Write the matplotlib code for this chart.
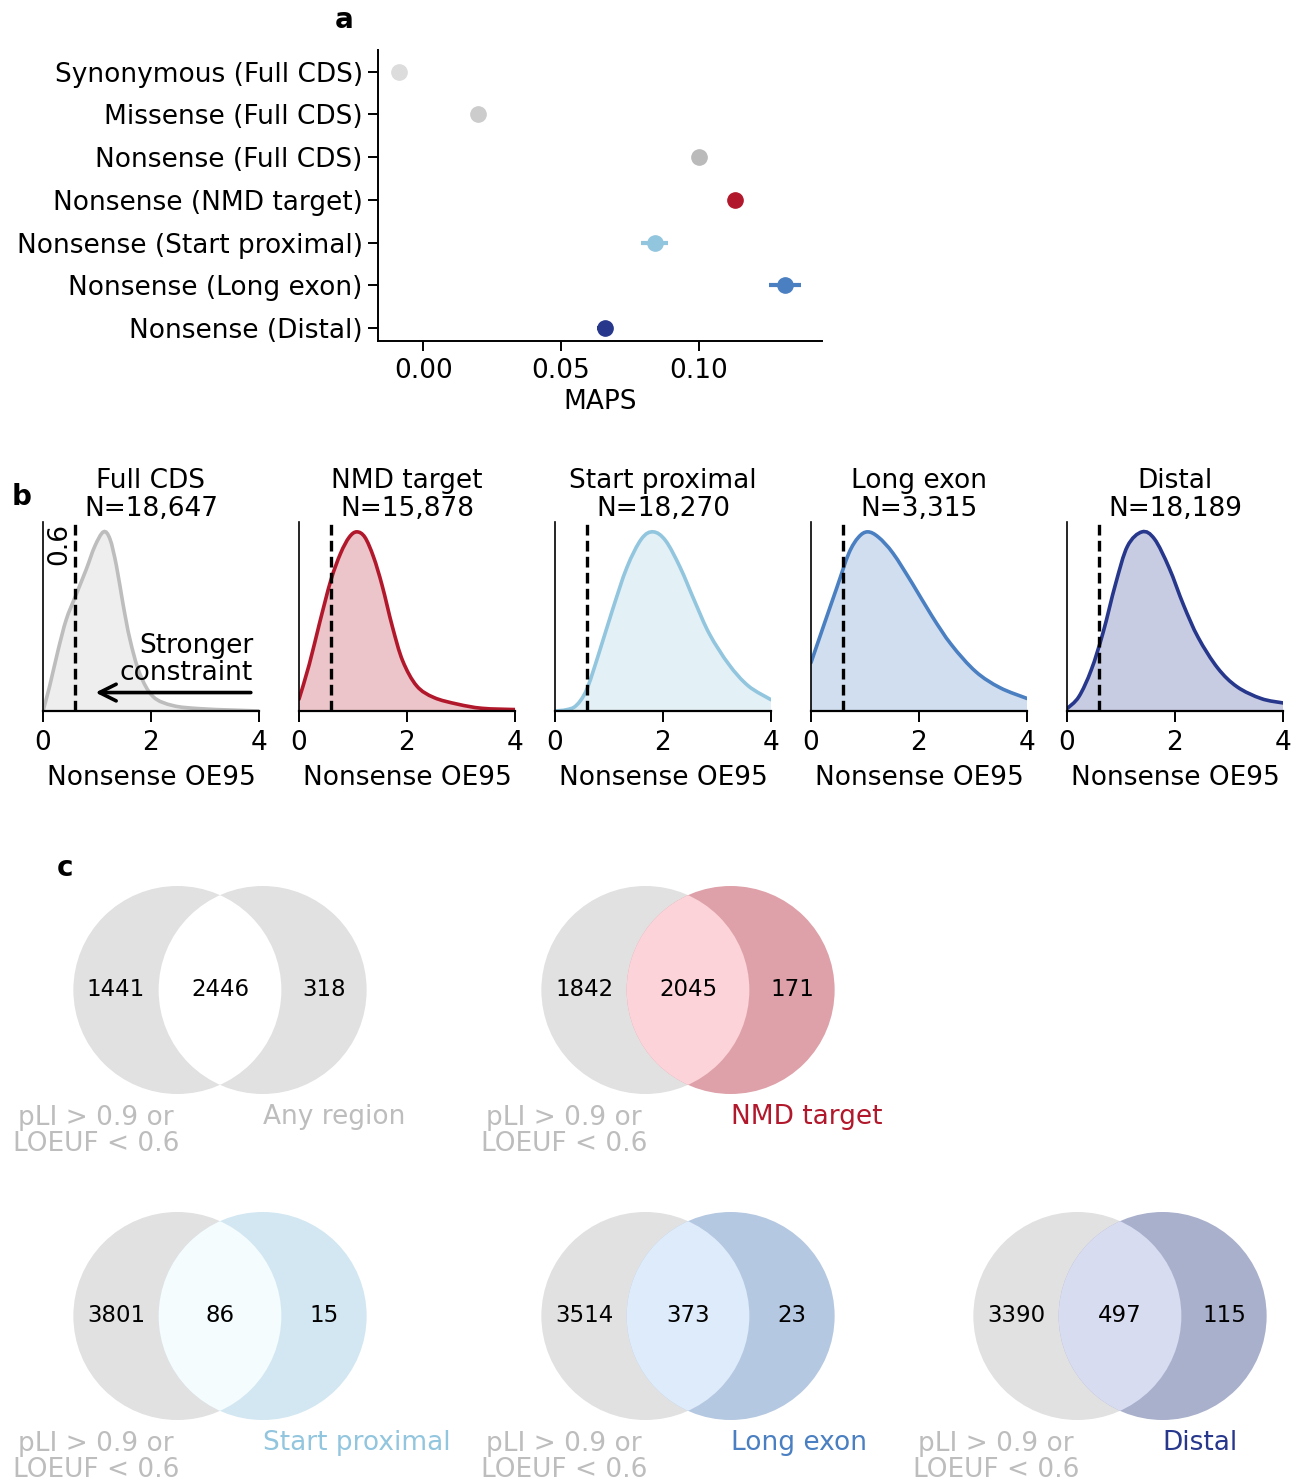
import matplotlib
matplotlib.use("Agg")
import matplotlib.pyplot as plt
from matplotlib.patches import Circle, PathPatch
from matplotlib.path import Path

plt.rcParams['font.family'] = 'DejaVu Sans'
FS = 19

# ---- panel a: MAPS per variant class ----
maps_labels = ["Synonymous (Full CDS)", "Missense (Full CDS)", "Nonsense (Full CDS)",
               "Nonsense (NMD target)", "Nonsense (Start proximal)",
               "Nonsense (Long exon)", "Nonsense (Distal)"]
maps_values = [-0.0087, 0.0197, 0.1000, 0.1129, 0.0839, 0.1312, 0.0659]
maps_err = [0.0006, 0.0008, 0.0012, 0.0015, 0.0048, 0.0059, 0.0029]
maps_colors = ["#dcdcdc", "#cccccc", "#bababa", "#b2182b", "#92c5de", "#4a7fc1", "#26378c"]

# ---- panel b: OE95 density curves (height relative to peak) ----
region_names = ["Full CDS", "NMD target", "Start proximal", "Long exon", "Distal"]
region_n = ["18,647", "15,878", "18,270", "3,315", "18,189"]
region_colors = ["#bdbdbd", "#b2182b", "#92c5de", "#4a7fc1", "#26378c"]

full_x = [0, 0.12, 0.28, 0.43, 0.6, 0.8, 0.96, 1.12, 1.24, 1.36, 1.48, 1.61, 1.79, 2.04, 2.41, 2.9, 3.52, 4.0]
full_y = [0, 0.135, 0.34, 0.51, 0.64, 0.79, 0.92, 1.0, 0.96, 0.81, 0.60, 0.40, 0.21, 0.08, 0.03, 0.013, 0.005, 0.0]
nmd_x = [0, 0.19, 0.38, 0.59, 0.77, 0.93, 1.07, 1.22, 1.38, 1.54, 1.73, 1.92, 2.18, 2.5, 2.94, 3.39, 4.0]
nmd_y = [0.066, 0.26, 0.49, 0.73, 0.88, 0.97, 1.0, 0.97, 0.86, 0.70, 0.47, 0.28, 0.14, 0.075, 0.038, 0.015, 0.008]
start_x = [0, 0.21, 0.39, 0.58, 0.79, 1.06, 1.33, 1.6, 1.82, 2.05, 2.32, 2.59, 2.86, 3.22, 3.58, 4.0]
start_y = [0, 0.007, 0.03, 0.115, 0.30, 0.56, 0.80, 0.96, 1.0, 0.95, 0.80, 0.61, 0.43, 0.26, 0.14, 0.063]
long_x = [0, 0.25, 0.48, 0.7, 0.88, 1.05, 1.25, 1.52, 1.88, 2.24, 2.6, 3.05, 3.5, 4.0]
long_y = [0.27, 0.49, 0.69, 0.88, 0.97, 1.0, 0.97, 0.88, 0.71, 0.53, 0.37, 0.22, 0.13, 0.07]
distal_x = [0, 0.22, 0.45, 0.67, 0.9, 1.12, 1.39, 1.62, 1.89, 2.16, 2.43, 2.79, 3.15, 3.6, 4.0]
distal_y = [0.013, 0.08, 0.23, 0.44, 0.71, 0.92, 1.0, 0.96, 0.80, 0.59, 0.41, 0.24, 0.135, 0.069, 0.045]
curves_x = [full_x, nmd_x, start_x, long_x, distal_x]
curves_y = [full_y, nmd_y, start_y, long_y, distal_y]
oe_cutoff = 0.6

# ---- panel c: venn counts (only pLI/LOEUF, both, region only) ----
venn_names = ["Any region", "NMD target", "Start proximal", "Long exon", "Distal"]
venn_counts = [(1441, 2446, 318), (1842, 2045, 171), (3801, 86, 15), (3514, 373, 23), (3390, 497, 115)]
venn_right_fc = ["#e1e1e1", "#dea1a9", "#d3e7f2", "#b5c8e1", "#a9b0cc"]
venn_mid_fc = ["#ffffff", "#fbd3d8", "#f4fcfe", "#deebfa", "#d8dcf0"]
venn_label_col = ["#bdbdbd", "#b2182b", "#92c5de", "#4a7fc1", "#26378c"]
grey_fc = "#e1e1e1"
grey_txt = "#bdbdbd"

W, H = 1298, 1484
fig = plt.figure(figsize=(W / 100, H / 100), dpi=100)


def px_axes(x0, y_top, w, h):
    return fig.add_axes([x0 / W, (H - y_top - h) / H, w / W, h / H])


def smooth_path(xs, ys, close=False):
    # catmull-rom through the read points, drawn as cubic bezier segments
    pts = list(zip(xs, ys))
    verts = [pts[0]]
    codes = [Path.MOVETO]
    n = len(pts)
    for i in range(n - 1):
        p0 = pts[max(i - 1, 0)]
        p1 = pts[i]
        p2 = pts[i + 1]
        p3 = pts[min(i + 2, n - 1)]
        c1 = (p1[0] + (p2[0] - p0[0]) / 6, p1[1] + (p2[1] - p0[1]) / 6)
        c2 = (p2[0] - (p3[0] - p1[0]) / 6, p2[1] - (p3[1] - p1[1]) / 6)
        verts += [c1, c2, p2]
        codes += [Path.CURVE4] * 3
    if close:
        verts += [(xs[-1], 0), (xs[0], 0), pts[0]]
        codes += [Path.LINETO, Path.LINETO, Path.CLOSEPOLY]
    return Path(verts, codes)


# panel a
ax = px_axes(378, 50, 444, 291)
ypos = list(range(len(maps_labels)))
for i in ypos:
    ax.errorbar(maps_values[i], i, xerr=maps_err[i], fmt='o', color=maps_colors[i],
                ms=11, elinewidth=3, capsize=0)
ax.set_yticks(ypos)
ax.set_yticklabels(maps_labels, fontsize=FS)
ax.set_ylim(6.305, -0.507)
ax.set_xlim(-0.0164, 0.1446)
ax.set_xticks([0, 0.05, 0.1])
ax.set_xticklabels(["0.00", "0.05", "0.10"], fontsize=FS)
ax.set_xlabel("MAPS", fontsize=FS, labelpad=4)
for s in ["top", "right"]:
    ax.spines[s].set_visible(False)
for s in ["left", "bottom"]:
    ax.spines[s].set_linewidth(1.4)
ax.tick_params(axis='y', length=7, width=1.4, pad=4)
ax.tick_params(axis='x', length=7, width=1.4, pad=5)
fig.text(344 / W, 1 - 20 / H, "a", fontsize=20, fontweight='bold', ha='center', va='center')

# panel b
for k in range(5):
    bx = px_axes(43 + 256 * k, 522, 216, 189)
    col = region_colors[k]
    bx.add_patch(PathPatch(smooth_path(curves_x[k], curves_y[k], close=True),
                           fc=col, alpha=0.25, lw=0))
    bx.add_patch(PathPatch(smooth_path(curves_x[k], curves_y[k]), fc='none', ec=col,
                           lw=2.6, capstyle='round'))
    bx.axvline(oe_cutoff, color='black', ls='--', lw=2.4, dashes=(3.2, 1.6))
    bx.set_xlim(0, 4)
    bx.set_ylim(0, 1.055)
    bx.set_yticks([])
    bx.set_xticks([0, 2, 4])
    bx.set_xticklabels(["0", "2", "4"], fontsize=FS)
    bx.tick_params(axis='x', length=8, width=1.4, pad=6)
    for s in ["top", "right"]:
        bx.spines[s].set_visible(False)
    bx.spines["left"].set_linewidth(1.2)
    bx.spines["bottom"].set_linewidth(1.6)
    bx.set_xlabel("Nonsense OE95", fontsize=FS, labelpad=6)
    bx.set_title(f"{region_names[k]}\nN={region_n[k]}", fontsize=FS, pad=3, linespacing=1.1)
    if k == 0:
        bx.text(0.55, 1.05, "0.6", rotation=90, fontsize=FS, ha='right', va='top')
        bx.text(3.89, 0.29, "Stronger\nconstraint", fontsize=FS, ha='right', va='center',
                linespacing=1.05)
        bx.annotate("", xy=(0.92, 0.103), xytext=(3.9, 0.103),
                    arrowprops=dict(arrowstyle='->', lw=2.6, color='black', mutation_scale=30))
fig.text(22 / W, 1 - 497 / H, "b", fontsize=20, fontweight='bold', ha='center', va='center')

# panel c
fig.text(65 / W, 1 - 868 / H, "c", fontsize=20, fontweight='bold', ha='center', va='center')
venn_mid_x = [220, 688, 220, 688, 1120]
venn_cy = [990, 990, 1316, 1316, 1316]
d = 0.41
for k in range(5):
    vx = px_axes(venn_mid_x[k] - 208, venn_cy[k] - 208, 416, 416)
    vx.set_xlim(-2, 2)
    vx.set_ylim(-2, 2)
    vx.axis('off')
    vx.add_patch(Circle((-d, 0), 1, fc=grey_fc, ec='none'))
    vx.add_patch(Circle((d, 0), 1, fc=venn_right_fc[k], ec='none'))
    mid = Circle((d, 0), 1, fc=venn_mid_fc[k], ec='none')
    vx.add_patch(mid)
    mid.set_clip_path(Circle((-d, 0), 1, transform=vx.transData))
    a_only, both, b_only = venn_counts[k]
    vx.text(-1.0, 0, str(a_only), fontsize=16.5, ha='center', va='center')
    vx.text(0, 0, str(both), fontsize=16.5, ha='center', va='center')
    vx.text(1.0, 0, str(b_only), fontsize=16.5, ha='center', va='center')
    vx.text(-1.19, -1.36, "pLI > 0.9 or\nLOEUF < 0.6", fontsize=FS, color=grey_txt,
            ha='center', va='center', linespacing=1.0, clip_on=False)
    vx.text(d, -1.22, venn_names[k], fontsize=FS, color=venn_label_col[k],
            ha='left', va='center', clip_on=False)

fig.savefig("out.png", dpi=100)
